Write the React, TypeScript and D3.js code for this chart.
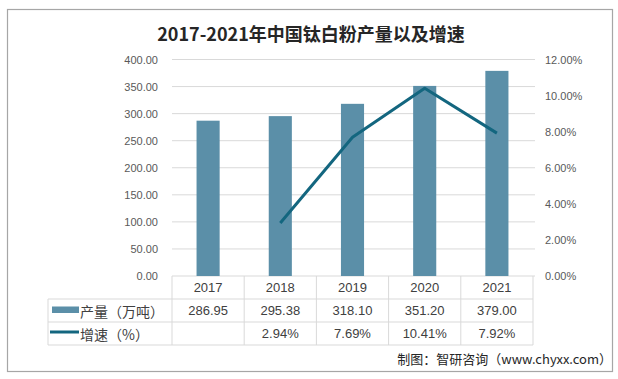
import React from "react";
import * as d3 from "d3";

const years = ["2017", "2018", "2019", "2020", "2021"];
const production = [286.95, 295.38, 318.1, 351.2, 379.0];
const growth: (number | null)[] = [null, 2.94, 7.69, 10.41, 7.92];
const productionLabels = ["286.95", "295.38", "318.10", "351.20", "379.00"];
const growthLabels = ["", "2.94%", "7.69%", "10.41%", "7.92%"];
const leftTicks = [0, 50, 100, 150, 200, 250, 300, 350, 400];
const rightTicks = [0, 2, 4, 6, 8, 10, 12];

const title = "2017-2021年中国钛白粉产量以及增速";
const seriesNames = ["产量（万吨）", "增速（%）"];
const source = "制图：智研咨询（www.chyxx.com）";

const W = 618;
const H = 379;
const plotL = 172;
const plotR = 533;
const plotT = 59.5;
const plotB = 276;
const tableL = 48;
const row1 = 299;
const row2 = 322;
const row3 = 345;

const barColor = "#5B8FA8";
const lineColor = "#13667F";
const gridColor = "#D9D9D9";
const font = "'Liberation Sans', 'Noto Sans CJK SC', sans-serif";
const cjk = "'Noto Sans CJK SC', 'Liberation Sans', sans-serif";

export default function App() {
  const x = d3.scaleBand<string>().domain(years).range([plotL, plotR]);
  const yL = d3.scaleLinear().domain([0, 400]).range([plotB, plotT]);
  const yR = d3.scaleLinear().domain([0, 12]).range([plotB, plotT]);
  const bw = x.bandwidth() * 0.32;
  const cx = (y: string) => (x(y) as number) + x.bandwidth() / 2;

  const line = d3
    .line<number | null>()
    .defined((d) => d != null)
    .x((_, i) => cx(years[i]))
    .y((d) => yR(d as number));

  const boundaries = [plotL, ...years.map((y) => (x(y) as number) + x.bandwidth())];

  return (
    <svg
      width={W}
      height={H}
      style={{ position: "absolute", left: 0, top: 0, background: "#fff" }}
    >
      <rect x={0} y={0} width={W} height={H} fill="#fff" />
      <rect x={7.5} y={9.5} width={605} height={362} fill="#fff" stroke="#A6A6A6" strokeWidth={1.2} />

      <text
        x={311}
        y={33}
        textAnchor="middle"
        dominantBaseline="central"
        fontFamily={cjk}
        fontWeight="bold"
        fontSize={18}
        fill="#262626"
      >
        {title}
      </text>

      {leftTicks.map((t) => (
        <line key={"g" + t} x1={plotL} x2={plotR + 2} y1={yL(t)} y2={yL(t)} stroke={gridColor} strokeWidth={1} />
      ))}
      {leftTicks.map((t) => (
        <text
          key={"l" + t}
          x={158}
          y={yL(t)}
          textAnchor="end"
          dominantBaseline="central"
          fontFamily={font}
          fontSize={11}
          fill="#595959"
        >
          {t.toFixed(2)}
        </text>
      ))}
      {rightTicks.map((t) => (
        <text
          key={"r" + t}
          x={545}
          y={yR(t)}
          textAnchor="start"
          dominantBaseline="central"
          fontFamily={font}
          fontSize={11}
          fill="#595959"
        >
          {t.toFixed(2) + "%"}
        </text>
      ))}

      {production.map((v, i) => (
        <rect
          key={"b" + i}
          x={cx(years[i]) - bw / 2}
          y={yL(v)}
          width={bw}
          height={plotB - yL(v)}
          fill={barColor}
        />
      ))}

      <path d={line(growth) || ""} fill="none" stroke={lineColor} strokeWidth={3} strokeLinejoin="round" />

      {boundaries.map((bx, i) => (
        <line key={"v" + i} x1={bx} x2={bx} y1={plotB} y2={row3} stroke={gridColor} />
      ))}
      <line x1={tableL} x2={tableL} y1={row1} y2={row3} stroke={gridColor} />
      {[row1, row2, row3].map((ry, i) => (
        <line key={"h" + i} x1={tableL} x2={plotR} y1={ry} y2={ry} stroke={gridColor} />
      ))}

      {years.map((yr) => (
        <text
          key={"y" + yr}
          x={cx(yr)}
          y={(plotB + row1) / 2}
          textAnchor="middle"
          dominantBaseline="central"
          fontFamily={font}
          fontSize={13}
          fill="#404040"
        >
          {yr}
        </text>
      ))}
      {productionLabels.map((s, i) => (
        <text
          key={"p" + i}
          x={cx(years[i])}
          y={(row1 + row2) / 2}
          textAnchor="middle"
          dominantBaseline="central"
          fontFamily={font}
          fontSize={13}
          fill="#404040"
        >
          {s}
        </text>
      ))}
      {growthLabels.map((s, i) => (
        <text
          key={"q" + i}
          x={cx(years[i])}
          y={(row2 + row3) / 2}
          textAnchor="middle"
          dominantBaseline="central"
          fontFamily={font}
          fontSize={13}
          fill="#404040"
        >
          {s}
        </text>
      ))}

      <rect x={52} y={306.5} width={27} height={6.5} fill={barColor} />
      <line x1={50} x2={79} y1={332} y2={332} stroke={lineColor} strokeWidth={3} />
      <text x={80} y={(row1 + row2) / 2} dominantBaseline="central" fontFamily={cjk} fontSize={14} fill="#404040">
        {seriesNames[0]}
      </text>
      <text x={80} y={(row2 + row3) / 2} dominantBaseline="central" fontFamily={cjk} fontSize={14} fill="#404040">
        {seriesNames[1]}
      </text>

      <text
        x={612}
        y={358}
        textAnchor="end"
        dominantBaseline="central"
        fontFamily={cjk}
        fontSize={13}
        fill="#262626"
      >
        {source}
      </text>
    </svg>
  );
}
